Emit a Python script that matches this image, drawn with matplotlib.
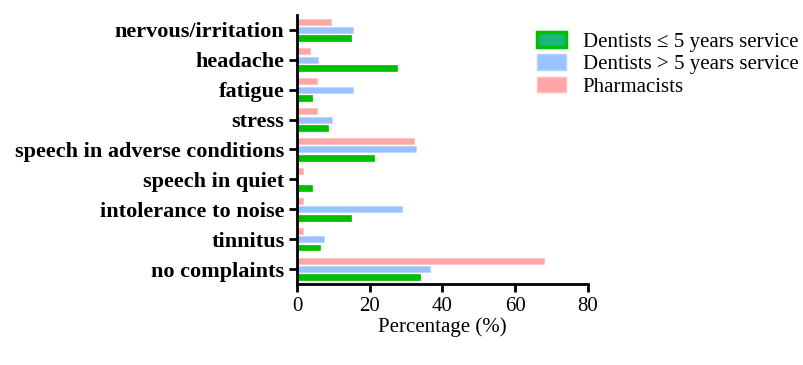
import matplotlib.pyplot as plt
import numpy as np
from matplotlib.patches import Patch

# categories top to bottom
categories = ['nervous/irritation', 'headache', 'fatigue', 'stress',
              'speech in adverse conditions', 'speech in quiet',
              'intolerance to noise', 'tinnitus', 'no complaints']

dentists_le5 = [14.8, 27.6, 4.1, 8.4, 21.2, 4.1, 14.8, 6.3, 33.9]
dentists_gt5 = [15.3, 5.7, 15.3, 9.5, 32.6, 0.0, 28.8, 7.5, 36.5]
pharmacists = [9.3, 3.7, 5.5, 5.5, 32.1, 1.7, 1.7, 1.7, 67.9]

series_names = ['Dentists \u2264 5 years service', 'Dentists > 5 years service', 'Pharmacists']

plt.rcParams['font.family'] = ['Liberation Serif', 'DejaVu Serif']

fig = plt.figure(figsize=(8.04, 3.65), dpi=100)
ax = fig.add_axes([0.3694, 0.222, 0.3619, 0.737])

y = np.arange(len(categories))[::-1]
h = 0.2
off = 0.28

ax.barh(y - off, dentists_le5, height=h, color='#00bf00', edgecolor='#00bf00', linewidth=0.5)
ax.barh(y, dentists_gt5, height=h, color='#99c2ff', edgecolor='#b5d3ff', linewidth=0.5)
ax.barh(y + off, pharmacists, height=h, color='#ffa6a6', edgecolor='#ffbcbc', linewidth=0.5)

ax.set_xlim(0, 80)
ax.set_ylim(-0.5, len(categories) - 0.5)
ax.set_xticks([0, 20, 40, 60, 80])
ax.set_yticks(y)
ax.set_yticklabels(categories, fontweight='bold', fontsize=16)
ax.tick_params(axis='x', labelsize=15, width=2, length=6)
ax.tick_params(axis='y', width=2, length=6, pad=3)
for s in ['top', 'right']:
    ax.spines[s].set_visible(False)
for s in ['left', 'bottom']:
    ax.spines[s].set_linewidth(2)
ax.set_xlabel('Percentage (%)', fontsize=15, labelpad=1)

handles = [Patch(facecolor='#1cb57a', edgecolor='#00bf00', linewidth=2.5),
           Patch(facecolor='#99c2ff', edgecolor='#b5d3ff'),
           Patch(facecolor='#ffa6a6', edgecolor='#ffbcbc')]
fig.legend(handles, series_names, loc='upper left', bbox_to_anchor=(0.645, 0.965),
           frameon=False, fontsize=15, handlelength=1.4, handleheight=0.78,
           labelspacing=0.12, handletextpad=0.78)

fig.savefig('out.png', dpi=100)
